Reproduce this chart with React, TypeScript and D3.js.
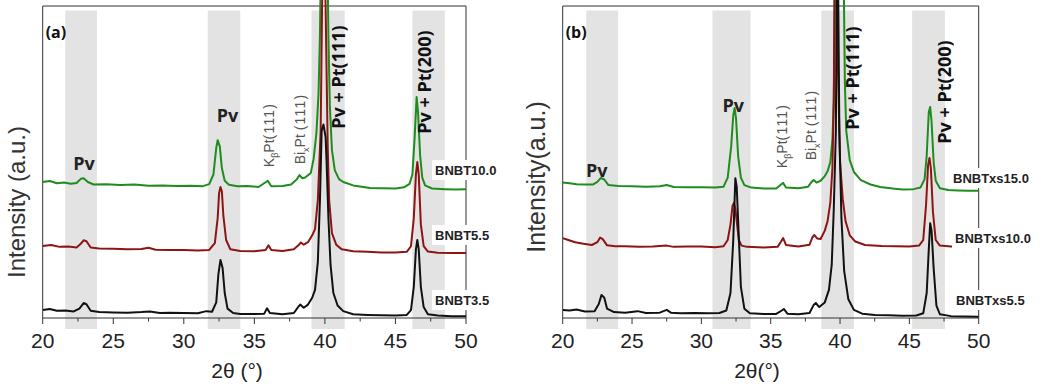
import React from 'react';
import * as d3 from 'd3';

// ---------- data ----------
const xTicks = [20, 25, 30, 35, 40, 45, 50];
const xMinorTicks = [22.5, 27.5, 32.5, 37.5, 42.5, 47.5];

const bandsA: [number, number][] = [[21.6, 23.85], [31.7, 34.0], [39.05, 41.4], [46.2, 48.5]];
const bandsB: [number, number][] = [[21.7, 24.0], [30.8, 33.55], [38.65, 41.0], [45.2, 47.56]];

const labelsA = ['BNBT10.0', 'BNBT5.5', 'BNBT3.5'];
const labelsB = ['BNBTxs15.0', 'BNBTxs10.0', 'BNBTxs5.5'];

// panel (a)  [2θ, intensity]
const a_BNBT10: [number, number][] = [
  [20.0, 43.6], [20.5, 43.9], [21.0, 43.2], [21.5, 43.4], [22.0, 43.0], [22.4, 43.3], [22.7, 44.6], [22.9, 44.8],
  [23.2, 43.6], [23.6, 42.8], [24.5, 42.9], [25.5, 42.6], [26.5, 42.8], [27.5, 42.4], [28.5, 42.5], [29.5, 42.3],
  [30.5, 42.4], [31.3, 42.2], [31.8, 42.9], [32.1, 46.0], [32.3, 54.5], [32.4, 57.0], [32.55, 55.0], [32.7, 48.0],
  [32.9, 44.0], [33.2, 42.7], [33.8, 42.2], [34.5, 42.3], [35.3, 42.0], [35.8, 43.5], [35.95, 44.0], [36.2, 42.2],
  [37.0, 42.3], [37.6, 42.8], [38.0, 44.4], [38.2, 45.8], [38.4, 44.8], [38.6, 45.0], [39.0, 46.5], [39.2, 51.0],
  [39.4, 59.3], [39.55, 72.0], [39.65, 91.0], [39.75, 125.0], [40.15, 125.0], [40.25, 90.0], [40.35, 68.0],
  [40.5, 53.8], [40.7, 47.4], [41.0, 44.5], [41.3, 43.6], [42.0, 42.5], [43.2, 41.7], [44.0, 41.6], [45.0, 41.5],
  [45.6, 41.9], [46.0, 43.0], [46.2, 46.0], [46.35, 57.0], [46.5, 70.8], [46.6, 66.0], [46.75, 52.0], [46.9, 45.0],
  [47.1, 42.5], [47.6, 41.5], [48.5, 41.3], [49.3, 41.2], [50.0, 41.3],
];
const a_BNBT55: [number, number][] = [
  [20.0, 23.1], [20.6, 23.4], [21.2, 22.8], [21.8, 22.9], [22.4, 22.6], [22.7, 23.8], [22.9, 24.9], [23.1, 24.6],
  [23.4, 22.6], [24.0, 22.3], [25.0, 22.2], [26.0, 22.0], [27.0, 22.1], [27.5, 22.5], [28.0, 21.9], [29.0, 21.8],
  [30.0, 21.8], [31.0, 21.6], [31.8, 21.8], [32.2, 24.0], [32.4, 32.0], [32.5, 40.0], [32.6, 42.0], [32.7, 40.5],
  [32.8, 33.0], [33.0, 25.0], [33.3, 22.0], [34.0, 21.5], [35.0, 21.4], [35.8, 21.8], [36.0, 23.3], [36.2, 21.8],
  [37.0, 21.5], [37.8, 22.0], [38.1, 23.2], [38.3, 24.2], [38.5, 23.5], [38.8, 24.3], [39.1, 26.5], [39.3, 28.5],
  [39.5, 37.8], [39.7, 60.0], [39.8, 100.0], [39.95, 125.0], [40.05, 100.0], [40.2, 55.0], [40.3, 37.8],
  [40.5, 27.2], [40.8, 23.5], [41.2, 22.0], [42.0, 21.4], [43.0, 21.2], [44.0, 21.0], [45.0, 21.0], [45.8, 21.2],
  [46.1, 23.0], [46.3, 32.0], [46.45, 46.0], [46.55, 50.0], [46.65, 46.0], [46.8, 30.0], [47.0, 23.0], [47.3, 21.3],
  [48.0, 20.9], [49.0, 20.8], [50.0, 20.8],
];
const a_BNBT35: [number, number][] = [
  [20.0, 2.6], [20.5, 2.9], [21.0, 2.3], [21.6, 2.4], [22.2, 2.1], [22.6, 3.0], [22.9, 4.8], [23.1, 4.4],
  [23.4, 2.3], [24.0, 1.9], [25.0, 1.8], [26.0, 1.7], [27.0, 1.9], [27.6, 2.1], [28.3, 1.6], [29.0, 1.7],
  [30.0, 1.6], [31.0, 1.5], [31.6, 2.2], [32.0, 2.0], [32.3, 5.0], [32.45, 14.0], [32.6, 18.6], [32.75, 16.0],
  [32.9, 8.0], [33.1, 3.0], [33.5, 1.6], [34.0, 1.3], [35.0, 1.3], [35.7, 1.4], [35.9, 3.1], [36.1, 1.6],
  [37.0, 1.2], [37.8, 1.6], [38.1, 3.5], [38.25, 4.3], [38.5, 3.3], [38.8, 4.3], [39.1, 6.5], [39.3, 9.0],
  [39.5, 18.0], [39.65, 38.0], [39.77, 60.0], [39.9, 62.0], [40.05, 58.0], [40.12, 50.0], [40.25, 32.0],
  [40.4, 17.0], [40.6, 8.0], [40.9, 4.0], [41.3, 2.2], [42.0, 1.2], [43.0, 1.0], [44.0, 0.9], [45.0, 0.8],
  [45.8, 1.0], [46.1, 2.5], [46.3, 10.0], [46.45, 22.0], [46.55, 25.0], [46.65, 22.0], [46.8, 10.0], [47.0, 3.5],
  [47.3, 1.2], [48.0, 0.8], [49.0, 0.6], [50.0, 0.6],
];

// panel (b)
const b_BNBTxs15: [number, number][] = [
  [20.0, 43.4], [20.5, 43.2], [21.0, 42.9], [21.6, 42.8], [22.2, 42.8], [22.5, 43.6], [22.75, 44.9], [23.0, 44.4],
  [23.3, 42.6], [24.0, 42.3], [25.0, 42.2], [26.0, 42.1], [27.0, 42.2], [27.5, 42.6], [28.0, 42.0], [29.0, 41.9],
  [30.0, 41.9], [31.0, 41.8], [31.6, 42.1], [31.9, 45.0], [32.15, 55.0], [32.3, 65.0], [32.4, 67.3], [32.5, 64.0],
  [32.65, 52.0], [32.85, 45.0], [33.1, 42.6], [33.6, 41.8], [34.5, 41.5], [35.4, 41.5], [35.75, 42.8], [35.9, 43.3],
  [36.1, 41.8], [37.0, 41.6], [37.7, 42.1], [37.95, 43.6], [38.1, 44.2], [38.3, 43.4], [38.6, 44.0], [38.9, 45.5],
  [39.1, 47.0], [39.3, 50.0], [39.45, 57.0], [39.55, 70.0], [39.65, 115.0], [40.25, 115.0], [40.35, 75.0],
  [40.45, 60.0], [40.7, 50.6], [41.0, 46.8], [41.5, 44.2], [42.2, 42.8], [42.9, 42.0], [43.8, 41.5], [44.5, 41.2],
  [45.3, 41.3], [45.8, 41.8], [46.1, 44.5], [46.25, 52.0], [46.4, 66.0], [46.5, 67.6], [46.6, 63.0], [46.75, 50.0],
  [46.9, 44.0], [47.2, 41.6], [47.8, 41.0], [48.5, 40.9], [49.3, 40.8], [50.0, 40.8],
];
const b_BNBTxs10: [number, number][] = [
  [20.0, 25.6], [20.4, 25.0], [20.9, 24.3], [21.5, 23.8], [22.1, 23.4], [22.5, 24.3], [22.7, 25.8], [22.9, 25.2],
  [23.2, 23.3], [23.8, 23.0], [24.5, 23.0], [25.5, 22.8], [26.5, 22.9], [27.5, 23.2], [28.0, 22.8], [29.0, 22.9],
  [30.0, 22.9], [31.0, 22.7], [31.6, 23.0], [31.9, 25.0], [32.1, 30.0], [32.25, 36.0], [32.35, 36.9], [32.45, 35.0],
  [32.55, 31.0], [32.7, 25.0], [32.9, 23.2], [33.3, 22.8], [34.5, 22.6], [35.5, 22.8], [35.75, 24.5], [35.9, 25.6],
  [36.1, 23.4], [37.0, 22.9], [37.8, 23.5], [38.0, 25.8], [38.15, 26.6], [38.35, 25.5], [38.6, 25.3], [38.9, 28.0],
  [39.1, 31.0], [39.3, 37.0], [39.45, 48.0], [39.55, 70.0], [39.62, 120.0], [39.75, 120.0], [39.85, 80.0],
  [40.0, 50.0], [40.2, 38.0], [40.4, 31.0], [40.7, 26.5], [41.1, 24.5], [41.8, 23.4], [43.0, 23.1], [44.0, 23.0],
  [45.0, 22.9], [45.7, 23.2], [46.0, 25.0], [46.2, 36.0], [46.35, 49.0], [46.45, 51.3], [46.55, 48.0], [46.7, 34.0],
  [46.9, 25.0], [47.2, 23.2], [48.0, 22.9], [49.0, 22.9], [50.0, 22.9],
];
const b_BNBTxs55: [number, number][] = [
  [20.0, 2.6], [20.5, 2.4], [21.0, 2.7], [21.6, 2.1], [22.3, 2.2], [22.6, 4.5], [22.8, 7.4], [23.0, 6.5],
  [23.2, 3.0], [23.7, 1.9], [24.5, 1.7], [25.4, 2.2], [26.0, 1.6], [27.0, 1.7], [27.5, 2.6], [27.8, 1.7],
  [28.5, 1.5], [29.5, 1.6], [30.5, 1.5], [31.3, 1.6], [31.8, 2.4], [32.1, 8.0], [32.3, 25.0], [32.45, 44.8],
  [32.55, 42.0], [32.7, 26.0], [32.85, 10.0], [33.1, 3.0], [33.5, 1.5], [34.5, 1.3], [35.4, 1.3], [35.8, 2.4],
  [35.95, 2.9], [36.2, 1.4], [37.0, 1.2], [37.8, 1.6], [38.1, 4.2], [38.25, 4.8], [38.5, 3.5], [38.9, 5.0],
  [39.2, 9.0], [39.4, 17.0], [39.55, 35.0], [39.7, 60.0], [39.78, 120.0], [39.84, 120.0], [39.95, 60.0],
  [40.1, 32.0], [40.3, 15.0], [40.6, 6.0], [41.0, 2.6], [41.6, 1.4], [42.5, 1.0], [43.5, 0.9], [44.5, 0.7],
  [45.5, 0.8], [46.0, 1.5], [46.25, 8.0], [46.4, 22.0], [46.5, 30.4], [46.6, 28.0], [46.75, 16.0], [46.95, 4.0],
  [47.2, 1.2], [48.0, 0.6], [49.0, 0.5], [50.0, 0.4],
];

// ---------- layout ----------
const W = 1046;
const H = 388;
const AXIS_Y = 318;
const TOP_Y = 6;
const COLORS = ['#1e8c1e', '#8e1414', '#111111'];
const ARIAL = '"Liberation Sans", Arial, sans-serif';
const BOLD = '"Open Sans", "Liberation Sans", sans-serif';

type Series = { data: [number, number][]; label: string };

type PanelProps = {
  id: string;
  x0: number;
  x1: number;
  bands: [number, number][];
  series: Series[];
  tag: string;
  yTitle: string;
  yTitleCenter: number;
  yTitleSize: number;
  xTitle: string;
  xTitleX: number;
  labelXs: number[];
  labelYs: number[];
  pv1: [number, number];
  pv2: [number, number];
  kb: [number, number];
  bi: [number, number];
  pt111: [number, number];
  pt200: [number, number];
};

function Panel(p: PanelProps) {
  const x = d3.scaleLinear().domain([20, 50]).range([p.x0, p.x1]);
  const y = d3.scaleLinear().domain([0, 100]).range([AXIS_Y, TOP_Y]);
  const line = d3
    .line<[number, number]>()
    .x((d) => x(d[0]))
    .y((d) => y(d[1]));
  const clipId = `clip-${p.id}`;
  const order = [0, 1, 2];
  return (
    <g>
      <defs>
        <clipPath id={clipId}>
          <rect x={p.x0} y={0} width={p.x1 - p.x0} height={AXIS_Y} />
        </clipPath>
      </defs>
      {p.bands.map((b, i) => (
        <rect key={i} x={x(b[0])} y={10.5} width={x(b[1]) - x(b[0])} height={329 - 10.5} fill="#e3e3e3" />
      ))}
      <path
        d={`M${p.x0},${AXIS_Y} V${TOP_Y} H${p.x1} V${AXIS_Y} Z`}
        fill="none"
        stroke="#333"
        strokeWidth={1}
      />
      {xTicks.map((t) => (
        <line key={`t${t}`} x1={x(t)} x2={x(t)} y1={AXIS_Y} y2={AXIS_Y + 6} stroke="#333" strokeWidth={1} />
      ))}
      {xMinorTicks.map((t) => (
        <line key={`m${t}`} x1={x(t)} x2={x(t)} y1={AXIS_Y} y2={AXIS_Y + 3.5} stroke="#333" strokeWidth={1} />
      ))}
      {xTicks.map((t) => (
        <text key={`l${t}`} x={x(t)} y={348} textAnchor="middle" fontFamily={ARIAL} fontSize={21} fill="#222">
          {t}
        </text>
      ))}
      <text x={p.xTitleX} y={378} textAnchor="middle" fontFamily={ARIAL} fontSize={21} fill="#222">
        {p.xTitle}
      </text>
      <text
        transform={`translate(${p.x0 - 18},${p.yTitleCenter}) rotate(-90)`}
        textAnchor="middle"
        fontFamily={ARIAL}
        fontSize={p.yTitleSize}
        fill="#333"
      >
        {p.yTitle}
      </text>
      <g clipPath={`url(#${clipId})`}>
        {order.map((i) => (
          <path
            key={i}
            d={line(p.series[i].data) || ''}
            fill="none"
            stroke={COLORS[i]}
            strokeWidth={2}
            strokeLinejoin="round"
          />
        ))}
      </g>
      <text x={p.x0 + 3} y={38} fontFamily={BOLD} fontWeight={700} fontSize={16} fill="#111">
        {p.tag}
      </text>
      <text x={x(p.pv1[0])} y={p.pv1[1]} textAnchor="middle" fontFamily={BOLD} fontWeight={700} fontSize={18} fill="#222">
        Pv
      </text>
      <text x={x(p.pv2[0])} y={p.pv2[1]} textAnchor="middle" fontFamily={BOLD} fontWeight={700} fontSize={18} fill="#222">
        Pv
      </text>
      <text
        transform={`translate(${x(p.kb[0])},${p.kb[1]}) rotate(-90)`}
        textAnchor="middle"
        dy="0.35em"
        fontFamily={ARIAL}
        fontSize={14}
        fill="#555"
      >
        K<tspan fontSize={9} dy="4">β</tspan>
        <tspan dy="-4">Pt</tspan>
        <tspan letterSpacing={1.2}>(111)</tspan>
      </text>
      <text
        transform={`translate(${x(p.bi[0])},${p.bi[1]}) rotate(-90)`}
        textAnchor="middle"
        dy="0.35em"
        fontFamily={ARIAL}
        fontSize={14}
        fill="#555"
      >
        Bi<tspan fontSize={9} dy="4">x</tspan>
        <tspan dy="-4">Pt </tspan>
        <tspan letterSpacing={1.2}>(111)</tspan>
      </text>
      <text
        transform={`translate(${x(p.pt111[0])},${p.pt111[1]}) rotate(-90)`}
        textAnchor="middle"
        dy="0.35em"
        fontFamily={BOLD}
        fontWeight={700}
        fontSize={18}
        fill="#111"
      >
        Pv + Pt(111)
      </text>
      <text
        transform={`translate(${x(p.pt200[0])},${p.pt200[1]}) rotate(-90)`}
        textAnchor="middle"
        dy="0.35em"
        fontFamily={BOLD}
        fontWeight={700}
        fontSize={18}
        fill="#111"
      >
        Pv + Pt(200)
      </text>
      {p.series.map((s, i) => (
        <g key={`sl${i}`}>
          <rect x={p.labelXs[i] - 3} y={p.labelYs[i] - 10} width={s.label.length * 8.2 + 6} height={20} fill="#fff" />
          <text x={p.labelXs[i]} y={p.labelYs[i]} dy="0.35em" fontFamily={ARIAL} fontWeight={700} fontSize={13} fill="#222">
            {s.label}
          </text>
        </g>
      ))}
    </g>
  );
}

export default function App() {
  const seriesA: Series[] = [
    { data: a_BNBT10, label: labelsA[0] },
    { data: a_BNBT55, label: labelsA[1] },
    { data: a_BNBT35, label: labelsA[2] },
  ];
  const seriesB: Series[] = [
    { data: b_BNBTxs15, label: labelsB[0] },
    { data: b_BNBTxs10, label: labelsB[1] },
    { data: b_BNBTxs55, label: labelsB[2] },
  ];
  return (
    <svg
      width={W}
      height={H}
      viewBox={`0 0 ${W} ${H}`}
      style={{ position: 'absolute', left: 0, top: 0, background: '#fff' }}
    >
      <rect width={W} height={H} fill="#fff" />
      <Panel
        id="a"
        x0={42.7}
        x1={466}
        bands={bandsA}
        series={seriesA}
        tag="(a)"
        yTitle="Intensity (a.u.)"
        yTitleCenter={202}
        yTitleSize={24}
        xTitle="2θ (°)"
        xTitleX={237}
        labelXs={[435, 435, 435]}
        labelYs={[170, 235, 300]}
        pv1={[22.93, 170]}
        pv2={[33.1, 122]}
        kb={[36.05, 135]}
        bi={[38.23, 129]}
        pt111={[41.0, 77]}
        pt200={[47.08, 82]}
      />
      <Panel
        id="b"
        x0={562.7}
        x1={978.7}
        bands={bandsB}
        series={seriesB}
        tag="(b)"
        yTitle="Intensity(a.u.)"
        yTitleCenter={177}
        yTitleSize={25}
        xTitle="2θ(°)"
        xTitleX={757}
        labelXs={[953, 955, 956]}
        labelYs={[178, 238, 300]}
        pv1={[22.45, 177]}
        pv2={[32.3, 112]}
        kb={[35.8, 136]}
        bi={[37.9, 125]}
        pt111={[40.93, 78]}
        pt200={[47.56, 92]}
      />
    </svg>
  );
}
